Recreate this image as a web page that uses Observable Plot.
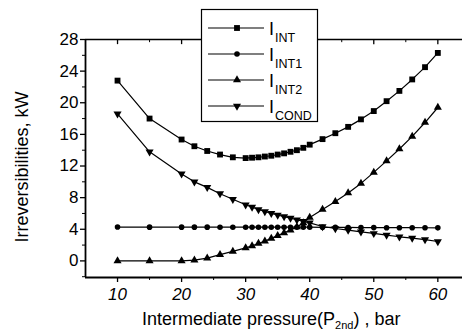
<!DOCTYPE html>
<html>
<head>
<meta charset="utf-8">
<script src="https://cdn.jsdelivr.net/npm/d3@7"></script>
<script src="https://cdn.jsdelivr.net/npm/@observablehq/plot@0.6"></script>
<style>
  html, body { margin: 0; padding: 0; background: white; }
  #chart { width: 462px; height: 334px; }
</style>
</head>
<body>
<div id="chart"></div>
<script>
// ---- data ----
const pressure = [10,15,20,22,24,26,28,30,31,32,33,34,35,36,37,38,39,40,42,44,46,48,50,52,54,56,58,60];
const iInt  = [22.8,18.0,15.35,14.5,13.9,13.45,13.1,13.0,13.05,13.1,13.2,13.3,13.45,13.6,13.8,14.0,14.3,14.7,15.4,16.15,16.95,17.9,18.95,20.2,21.5,22.95,24.5,26.3];
const iInt1 = [4.28,4.27,4.27,4.27,4.27,4.26,4.26,4.26,4.26,4.26,4.26,4.26,4.26,4.26,4.26,4.26,4.26,4.26,4.25,4.24,4.23,4.22,4.21,4.2,4.2,4.2,4.19,4.18];
const iInt2 = [0,0,0,0.1,0.35,0.8,1.2,1.65,1.9,2.2,2.5,2.85,3.2,3.55,3.9,4.3,4.8,5.5,6.5,7.5,8.6,9.8,11.2,12.65,14.15,15.75,17.5,19.4];
const iCond = [18.6,13.8,11.0,10.0,9.3,8.5,7.8,7.1,6.8,6.5,6.25,6.0,5.8,5.6,5.4,5.2,5.0,4.8,4.35,4.1,3.9,3.68,3.47,3.26,3.05,2.88,2.7,2.45];

const seriesNames = ["INT", "INT1", "INT2", "COND"];
const seriesValues = [iInt, iInt1, iInt2, iCond];
const seriesSymbols = ["square", "circle", "triangle", "triangle"];
const seriesRotate = [0, 0, 0, 180];
const seriesR = [3.3, 2.8, 3.0, 3.0];

const xTicks = [10, 20, 30, 40, 50, 60];
const xMinor = [15, 25, 35, 45, 55];
const yTicks = [0, 4, 8, 12, 16, 20, 24, 28];
const yMinor = [-2, 2, 6, 10, 14, 18, 22, 26];
const xDomain = [5, 63.85];
const yDomain = [-2.1, 28];

// ---- build table ----
const rows = [];
seriesNames.forEach((name, s) => {
  pressure.forEach((p, i) => rows.push({series: name, p, v: seriesValues[s][i]}));
});

const font = "'Liberation Sans', Arial, sans-serif";

const marks = [];
seriesNames.forEach((name) => {
  marks.push(Plot.line(rows.filter(d => d.series === name), {x: "p", y: "v", stroke: "black", strokeWidth: 1.2}));
});
seriesNames.forEach((name, s) => {
  marks.push(Plot.dot(rows.filter(d => d.series === name), {
    x: "p", y: "v", symbol: seriesSymbols[s], r: seriesR[s], fill: "black", stroke: "none", rotate: seriesRotate[s]
  }));
});

const chart = Plot.plot({
  width: 462,
  height: 334,
  marginLeft: 85,
  marginRight: 0,
  marginTop: 39,
  marginBottom: 57,
  style: {fontFamily: font, fontSize: "16px", color: "black", background: "white", overflow: "visible"},
  x: {domain: xDomain},
  y: {domain: yDomain},
  marks: [
    Plot.axisY(yTicks, {tickSize: 5, tickPadding: 2, fontSize: 17, label: null, strokeWidth: 1.3}),
    Plot.axisY(yMinor.filter(d => d > yDomain[0]), {tickSize: 3, text: null, label: null}),
    Plot.axisX(xTicks, {tickSize: 5, tickPadding: 5, fontSize: 17, fontStyle: "italic", label: null, strokeWidth: 1.3}),
    Plot.axisX(xMinor, {tickSize: 3, text: null, label: null}),
    Plot.ruleX(xTicks, {x: d => d, y1: yDomain[1], y2: yDomain[1] - 0.65, stroke: "black", strokeWidth: 1.3}),
    Plot.ruleX(xMinor, {x: d => d, y1: yDomain[1], y2: yDomain[1] - 0.4, stroke: "black"}),
    Plot.ruleX([xDomain[0]], {stroke: "black", strokeWidth: 1.8}),
    Plot.ruleY([yDomain[0]], {stroke: "black", strokeWidth: 1.8}),
    Plot.ruleY([yDomain[1]], {stroke: "black", strokeWidth: 1.6}),
    ...marks
  ]
});

document.getElementById("chart").appendChild(chart);

// ---- axis titles and legend (SVG text) ----
const svg = d3.select(chart);

svg.append("text")
  .attr("transform", "translate(28,167) rotate(-90)")
  .attr("text-anchor", "middle")
  .attr("font-family", font)
  .attr("font-size", 18)
  .attr("fill", "black")
  .text("Irreversibilities, kW");

const xt = svg.append("text")
  .attr("x", 142).attr("y", 325)
  .attr("text-anchor", "start")
  .attr("font-family", font)
  .attr("font-size", 18)
  .attr("fill", "black");
xt.append("tspan").text("Intermediate pressure(P");
xt.append("tspan").attr("font-size", 11).attr("dy", 4).text("2nd");
xt.append("tspan").attr("dy", -4).text(") , bar");

const lg = svg.append("g").attr("text-anchor", "start");
lg.append("rect").attr("x", 201.5).attr("y", 9.5).attr("width", 116).attr("height", 112)
  .attr("fill", "white").attr("stroke", "black").attr("stroke-width", 1.2);
const entryY = [28, 54, 80, 106];
seriesNames.forEach((name, s) => {
  const y = entryY[s];
  lg.append("line").attr("x1", 208).attr("x2", 264).attr("y1", y).attr("y2", y)
    .attr("stroke", "black").attr("stroke-width", 1.2);
  const sym = d3.symbol().type(seriesSymbols[s] === "square" ? d3.symbolSquare : seriesSymbols[s] === "circle" ? d3.symbolCircle : d3.symbolTriangle)
    .size(Math.PI * seriesR[s] * seriesR[s]);
  lg.append("path").attr("d", sym()).attr("fill", "black")
    .attr("transform", `translate(237,${y}) rotate(${seriesRotate[s]})`);
  const t = lg.append("text").attr("x", 269).attr("y", y + 7)
    .attr("text-anchor", "start")
    .attr("font-family", font).attr("font-size", 18).attr("fill", "black");
  t.append("tspan").text("I");
  t.append("tspan").attr("font-size", 12.5).attr("dy", 7).attr("dx", 1).text(name);
});
</script>
</body>
</html>
